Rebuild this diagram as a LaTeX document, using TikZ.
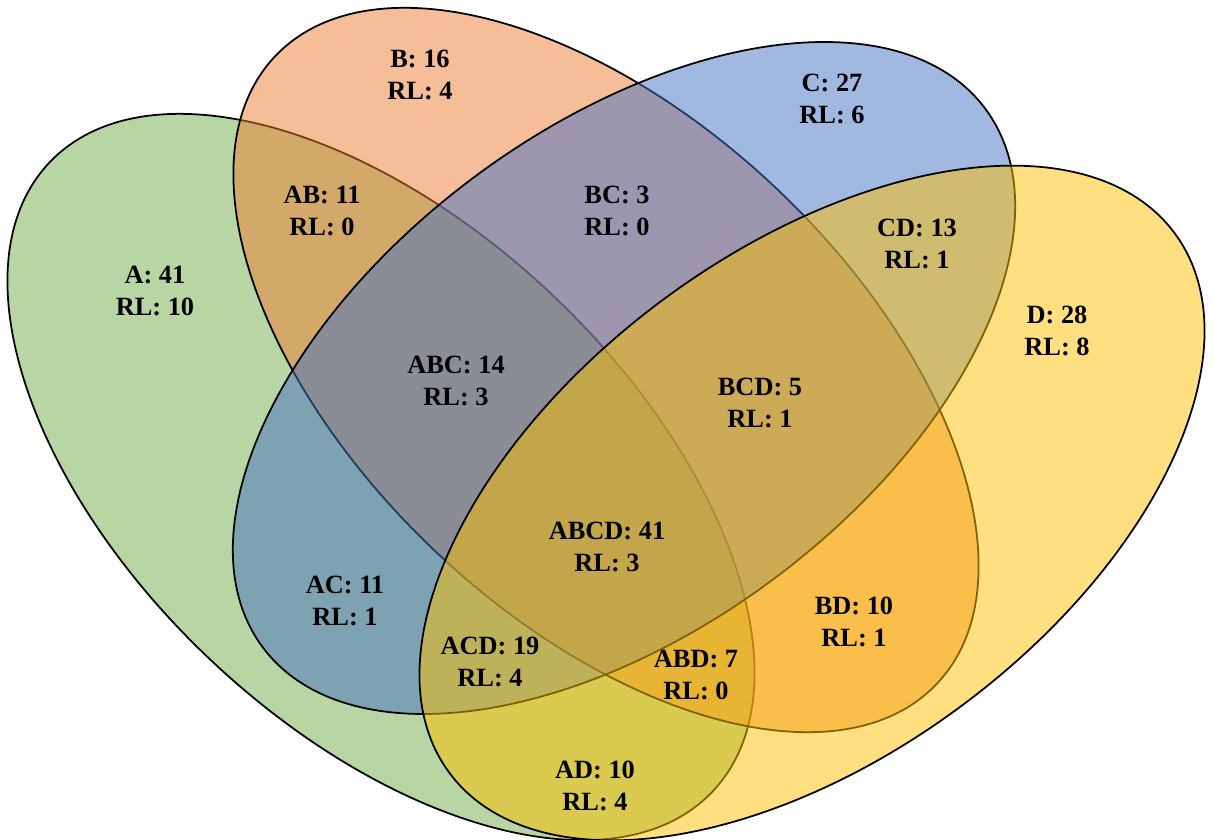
\documentclass[tikz,border=0pt]{standalone}
\usepackage{fontspec}
\setmainfont{Liberation Serif}
\definecolor{cA}{RGB}{112,173,71}
\definecolor{cB}{RGB}{237,125,49}
\definecolor{cC}{RGB}{68,114,196}
\definecolor{cD}{RGB}{255,192,0}
\begin{document}
\begin{tikzpicture}[x=0.02cm,y=0.02cm,
  setshape/.style={draw=black, line width=1pt, fill opacity=0.5},
  lbl/.style={align=center, font=\fontsize{15}{18}\selectfont\bfseries, text=black, inner sep=0pt}]
\useasboundingbox (0,0) rectangle (1213,839);
\clip (0,0) rectangle (1213,839);
% sets, drawn in order A, B, C, D
\path[setshape, fill=cA, shift={(381,362)}, rotate=-43.5] (0,0) ellipse [x radius=457, y radius=250];
\path[setshape, fill=cB, shift={(606,469)}, rotate=-43.5] (0,0) ellipse [x radius=456, y radius=249];
\path[setshape, fill=cC, shift={(624,461)}, rotate=36.7] (0,0) ellipse [x radius=450.6, y radius=250.6];
\path[setshape, fill=cD, shift={(812,336)}, rotate=36.7] (0,0) ellipse [x radius=452, y radius=252];
% labels
\node[lbl] (lB) at (420,764) {B: 16\\RL: 4};
\node[lbl] (lA) at (155,548) {A: 41\\RL: 10};
\node[lbl] (lAB) at (322,628) {AB: 11\\RL: 0};
\node[lbl] (lBC) at (617,628) {BC: 3\\RL: 0};
\node[lbl] (lC) at (832,740) {C: 27\\RL: 6};
\node[lbl] (lCD) at (917,595) {CD: 13\\RL: 1};
\node[lbl] (lD) at (1057,508) {D: 28\\RL: 8};
\node[lbl] (lABC) at (456,458) {ABC: 14\\RL: 3};
\node[lbl] (lBCD) at (760,436) {BCD: 5\\RL: 1};
\node[lbl] (lABCD) at (607,292) {ABCD: 41\\RL: 3};
\node[lbl] (lAC) at (345,238) {AC: 11\\RL: 1};
\node[lbl] (lACD) at (490,177) {ACD: 19\\RL: 4};
\node[lbl] (lABD) at (696,164) {ABD: 7\\RL: 0};
\node[lbl] (lBD) at (854,217) {BD: 10\\RL: 1};
\node[lbl] (lAD) at (595,53) {AD: 10\\RL: 4};
\end{tikzpicture}
\end{document}
